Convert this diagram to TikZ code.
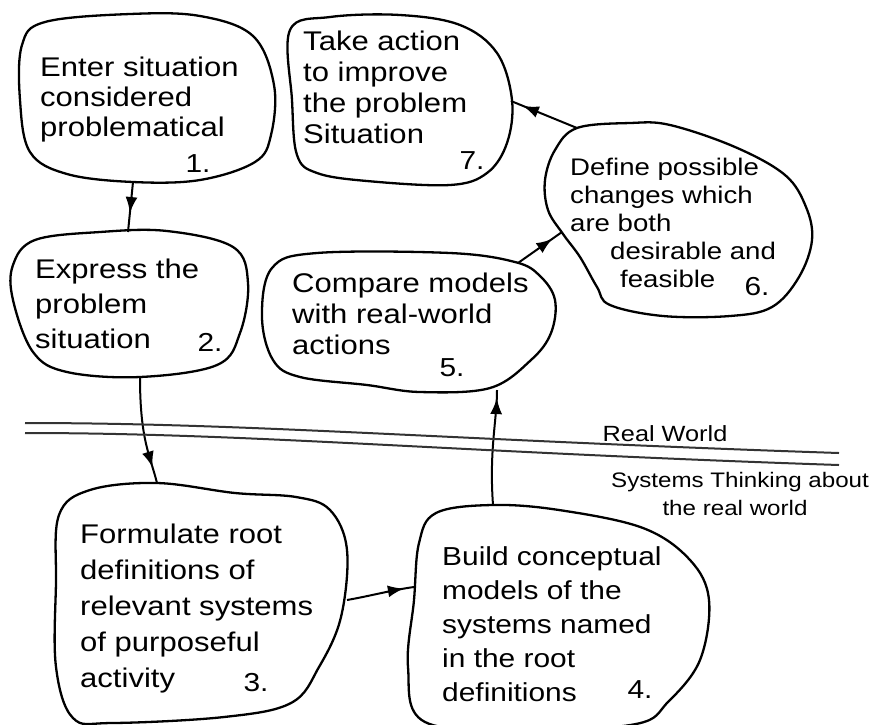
\documentclass[tikz,border=0pt]{standalone}
\usepackage{fontspec}
\setmainfont[FakeStretch=1.15]{Liberation Sans}
\usetikzlibrary{arrows.meta,decorations.markings}
\begin{document}
\begin{tikzpicture}[x=1pt,y=-1pt,
  blob/.style={draw, line width=2.3pt, line join=round},
  conn/.style={line width=2pt},
  marr/.style={postaction={decorate}, decoration={markings, mark=at position #1 with {\arrow{Latex[length=16pt,width=12pt]}}}},
  txt/.style={anchor=north west, inner sep=0pt, align=left, font=\fontsize{27}{#1}\selectfont},
  num/.style={inner sep=0pt, font=\fontsize{26}{28}\selectfont},
  lbl/.style={inner sep=0pt, font=\fontsize{#1}{24}\selectfont}
]
\useasboundingbox (0,0) rectangle (877,724);

% ---- blobs ----
\draw[blob] plot[smooth cycle, tension=0.6] coordinates {(22,45) (45,22) (130,14) (200,16) (253,36) (274,85) (271,135) (255,162) (200,180) (133,182) (67,174) (30,152) (20,100)};
\draw[blob] plot[smooth cycle, tension=0.6] coordinates {(13,265) (35,240) (100,232) (167,231) (233,247) (248,283) (240,333) (217,365) (140,377) (67,372) (33,352) (13,300)};
\draw[blob] plot[smooth cycle, tension=0.6] coordinates {(59,515) (90,490) (157,483) (235,493) (296,497) (330,510) (347,550) (341,617) (319,667) (291,703) (224,717) (112,723) (73,718) (56,667) (56,583)};
\draw[blob] plot[smooth cycle, tension=0.6] coordinates {(419,543) (436,513) (492,505) (559,510) (643,528) (690,560) (709,600) (700,660) (668,702) (636,724) (530,730) (425,722) (408,667) (414,600)};
\draw[blob] plot[smooth cycle, tension=0.6] coordinates {(272,268) (317,253) (450,253) (515,262) (540,276) (555,300) (551,333) (531,360) (490,388) (420,392) (367,385) (300,377) (273,360) (262,317)};
\draw[blob] plot[smooth cycle, tension=0.6] coordinates {(555,150) (577,128) (630,123) (670,125) (735,147) (785,175) (806,207) (812,240) (799,277) (772,307) (730,316) (663,316) (610,305) (597,287) (580,257) (563,234) (548,210) (545,180)};
\draw[blob] plot[smooth cycle, tension=0.6] coordinates {(290,30) (330,17) (400,15) (460,25) (497,53) (512,100) (507,143) (487,173) (450,185) (367,181) (317,173) (297,155) (292,100)};

% ---- connector end points on the blob outlines ----
\coordinate (b1s) at (133,182);
\coordinate (b2n) at (128,232);
\coordinate (b2s) at (140,377);
\coordinate (b3n) at (157,483);
\coordinate (b3e) at (347,600);
\coordinate (b4w) at (414,587);
\coordinate (b4n) at (493,505);
\coordinate (b5s) at (497,390);
\coordinate (b5ne) at (518,263);
\coordinate (b6w) at (562,232);
\coordinate (b6nw) at (577,128);
\coordinate (b7e) at (511,101);

% ---- connectors ----
\draw[conn, marr=0.62] (b1s) -- (b2n);
\draw[conn, marr=0.85] (b2s) .. controls (140,440) and (150,455) .. (b3n);
\draw[conn, marr=0.85] (b3e) .. controls (370,596) and (392,590) .. (b4w);
\draw[conn, marr=0.93] (b4n) .. controls (489,450) and (497,420) .. (b5s);
\draw[conn, marr=0.78] (b5ne) -- (b6w);
\draw[conn, marr=0.82] (b6nw) -- (b7e);

% ---- boundary lines ----
\draw[line width=2pt, black!80] (25,423) .. controls (250,423) and (450,440) .. (839,453);
\draw[line width=2pt, black!80] (25,433) .. controls (250,433) and (450,452) .. (839,465);

% ---- texts ----
\node[txt=30] (t1) at (40,57) {Enter situation\\considered\\problematical};
\node[num] (n1) at (198,164) {1.};
\node[txt=35] (t2) at (35,259) {Express the\\problem\\situation};
\node[num] (n2) at (210,342) {2.};
\node[txt=36] (t3) at (80,524) {Formulate root\\definitions of\\relevant systems\\of purposeful\\activity};
\node[num] (n3) at (256,683) {3.};
\node[anchor=north west, inner sep=0pt, align=left, font=\fontsize{26}{34}\selectfont] (t4) at (442,546) {Build conceptual\\models of the\\systems named\\in the root\\definitions};
\node[num] (n4) at (640,690) {4.};
\node[txt=31] (t5) at (292,273) {Compare models\\with real-world\\actions};
\node[num] (n5) at (452,368) {5.};
\node[anchor=north west, inner sep=0pt, align=left, font=\fontsize{24}{28}\selectfont] (t6) at (570,158) {Define possible\\changes which\\are both\\\hspace*{40pt}desirable and\\\hspace*{50pt}feasible};
\node[num] (n6) at (757,287) {6.};
\node[txt=31] (t7) at (303,31) {Take action\\to improve\\the problem\\Situation};
\node[num] (n7) at (472,161) {7.};

\node[lbl=22] (rw) at (665,434) {Real World};
\node[lbl=21] (st) at (740,482) {Systems Thinking about};
\node[lbl=21] (st2) at (735,508) {the real world};
\end{tikzpicture}
\end{document}
